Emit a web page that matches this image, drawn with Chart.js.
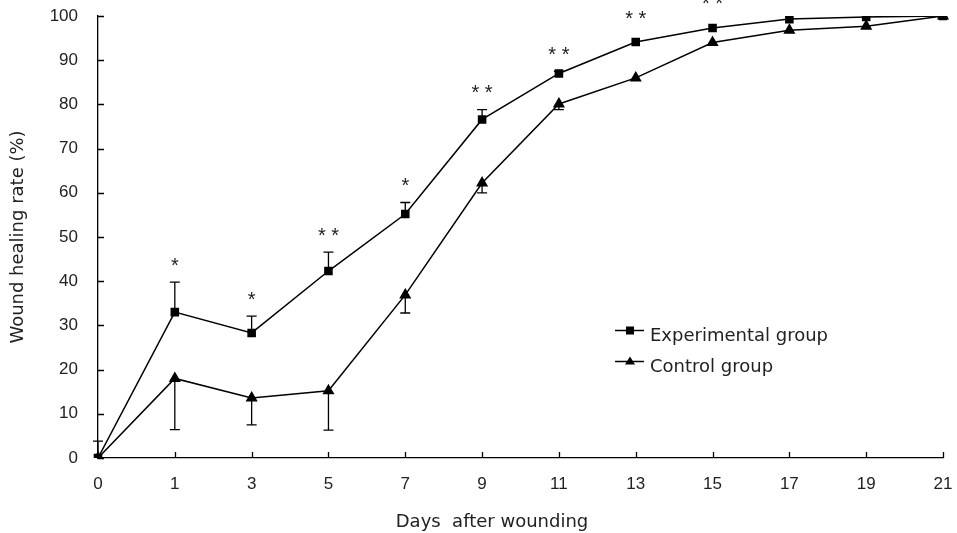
<!DOCTYPE html>
<html>
<head>
<meta charset="utf-8">
<script src="https://cdn.jsdelivr.net/npm/chart.js@4.4.1/dist/chart.umd.min.js"></script>
<style>
  html, body { margin: 0; padding: 0; background: #fff; }
  #wrap { width: 957px; height: 533px; }
</style>
</head>
<body>
<div id="wrap"><canvas id="chart"></canvas></div>
<script>
const days = ["0", "1", "3", "5", "7", "9", "11", "13", "15", "17", "19", "21"];
const expMean = [0, 33.0, 28.3, 42.3, 55.2, 76.6, 87.0, 94.1, 97.3, 99.3, 99.8, 100];
const expErr = [3.8, 6.8, 3.8, 4.3, 2.6, 2.2, 0.5, 0, 0, 0, 0, 0];
const ctrlMean = [0, 18.0, 13.6, 15.2, 36.9, 62.2, 80.1, 86.0, 94.0, 96.8, 97.7, 100];
const ctrlErr = [0, 11.6, 6.1, 8.9, 4.1, 2.2, 1.3, 0, 0, 0, 0, 0];
const stars = ["", "*", "*", "* *", "*", "* *", "* *", "* *", "* *", "", "", ""];
const yTicks = [0, 10, 20, 30, 40, 50, 60, 70, 80, 90, 100];

const TICK_FONT = "'Liberation Sans', Arial, sans-serif";
const TEXT_FONT = "'DejaVu Sans', sans-serif";

// error bars, tick marks, significance stars, legend and x title
const extras = {
  id: "extras",
  afterDatasetsDraw(chart) {
    const { ctx, chartArea, scales } = chart;
    const x = scales.x, y = scales.y;
    ctx.save();
    ctx.strokeStyle = "#000";
    ctx.lineWidth = 1.3;

    // tick marks pointing into the plot
    ctx.beginPath();
    days.forEach((d, i) => {
      const px = Math.round(x.getPixelForValue(i)) + 0.5;
      ctx.moveTo(px, chartArea.bottom);
      ctx.lineTo(px, chartArea.bottom - 6);
    });
    yTicks.forEach(v => {
      const py = Math.round(y.getPixelForValue(v)) + 0.5;
      ctx.moveTo(chartArea.left, py);
      ctx.lineTo(chartArea.left + 6, py);
    });
    ctx.stroke();

    // error bars: experimental up, control down
    const cap = 5;
    ctx.beginPath();
    days.forEach((d, i) => {
      const px = x.getPixelForValue(i);
      if (expErr[i] > 0) {
        const p0 = y.getPixelForValue(expMean[i]);
        const p1 = y.getPixelForValue(expMean[i] + expErr[i]);
        ctx.moveTo(px, p0); ctx.lineTo(px, p1);
        ctx.moveTo(px - cap, p1); ctx.lineTo(px + cap, p1);
      }
      if (ctrlErr[i] > 0) {
        const p0 = y.getPixelForValue(ctrlMean[i]);
        const p1 = y.getPixelForValue(ctrlMean[i] - ctrlErr[i]);
        ctx.moveTo(px, p0); ctx.lineTo(px, p1);
        ctx.moveTo(px - cap, p1); ctx.lineTo(px + cap, p1);
      }
    });
    ctx.stroke();

    // significance stars
    ctx.fillStyle = "#222";
    ctx.font = "20px " + TICK_FONT;
    ctx.textAlign = "center";
    ctx.textBaseline = "middle";
    days.forEach((d, i) => {
      if (!stars[i]) return;
      const top = y.getPixelForValue(expMean[i] + expErr[i]);
      const gap = i >= 7 ? 23 : 16;
      ctx.fillText(stars[i], x.getPixelForValue(i), top - gap);
    });

    // legend
    const items = [
      { label: "Experimental group", style: "rect" },
      { label: "Control group", style: "triangle" }
    ];
    ctx.font = "18px " + TEXT_FONT;
    ctx.textAlign = "left";
    ctx.textBaseline = "alphabetic";
    items.forEach((it, k) => {
      const ly = 330.5 + k * 31;
      ctx.beginPath();
      ctx.lineWidth = 1.5;
      ctx.moveTo(615, ly); ctx.lineTo(644, ly);
      ctx.stroke();
      ctx.fillStyle = "#000";
      ctx.beginPath();
      if (it.style === "rect") {
        ctx.rect(626, ly - 4, 8, 8);
      } else {
        ctx.moveTo(630, ly - 5); ctx.lineTo(635, ly + 3); ctx.lineTo(625, ly + 3); ctx.closePath();
      }
      ctx.fill();
      ctx.fillStyle = "#222";
      ctx.fillText(it.label, 650, ly + 10);
    });

    // x axis title
    ctx.textAlign = "center";
    ctx.fillText("Days  after wounding", 492, 527);
    ctx.restore();
  }
};

new Chart(document.getElementById("chart"), {
  type: "line",
  data: {
    labels: days,
    datasets: [
      {
        label: "Experimental group",
        data: expMean,
        borderColor: "#000",
        backgroundColor: "#000",
        borderWidth: 1.5,
        pointStyle: "rect",
        pointRadius: 5,
        pointHoverRadius: 5,
        tension: 0
      },
      {
        label: "Control group",
        data: ctrlMean,
        borderColor: "#000",
        backgroundColor: "#000",
        borderWidth: 1.5,
        pointStyle: "triangle",
        pointRadius: 5.5,
        pointHoverRadius: 5.5,
        tension: 0
      }
    ]
  },
  options: {
    responsive: true,
    maintainAspectRatio: false,
    animation: false,
    layout: { padding: { top: 16, right: 14, left: 0, bottom: 0 } },
    plugins: {
      legend: { display: false },
      tooltip: { enabled: false }
    },
    scales: {
      x: {
        offset: false,
        grid: { display: false },
        border: { display: true, color: "#000", width: 1.3 },
        ticks: {
          color: "#222",
          font: { family: TICK_FONT, size: 17 },
          padding: 8,
          maxRotation: 0,
          autoSkip: false
        },
        afterFit: s => { s.height = 75; s.paddingLeft = 0; s.paddingRight = 0; }
      },
      y: {
        min: 0,
        max: 100,
        grid: { display: false },
        border: { display: true, color: "#000", width: 1.3 },
        ticks: {
          stepSize: 10,
          color: "#222",
          font: { family: TICK_FONT, size: 17 },
          padding: 12
        },
        title: {
          display: true,
          text: "Wound healing rate (%)",
          color: "#222",
          font: { family: TEXT_FONT, size: 18 },
          padding: { top: 8, bottom: 0 }
        },
        afterFit: s => { s.width = 98; s.paddingTop = 0; s.paddingBottom = 0; }
      }
    }
  },
  plugins: [extras]
});
</script>
</body>
</html>
